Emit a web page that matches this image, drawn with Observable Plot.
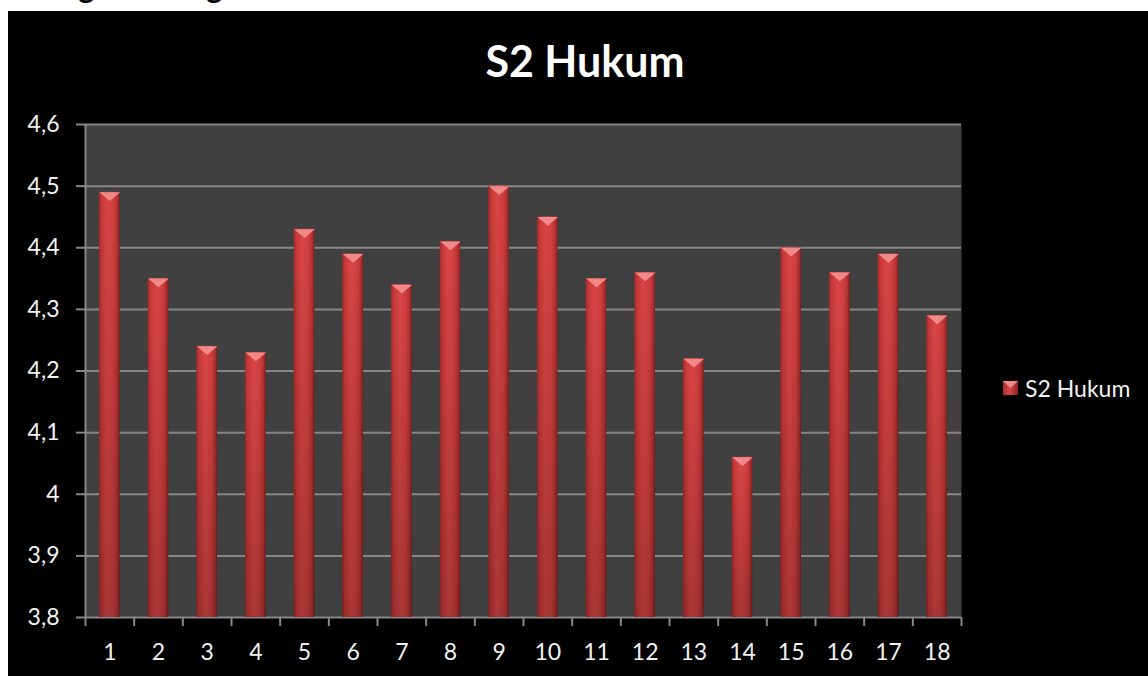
<!DOCTYPE html>
<html><head><meta charset="utf-8">
<script src="https://cdn.jsdelivr.net/npm/d3@7"></script>
<script src="https://cdn.jsdelivr.net/npm/@observablehq/plot@0.6"></script>
<style>
body{margin:0;background:#fff;width:1148px;height:676px;overflow:hidden;position:relative;font-family:Lato,sans-serif}
#hdr{position:absolute;left:0;top:0;width:1148px;height:11px;overflow:hidden}
#hdr span{position:absolute;left:8px;top:-29px;font:bold 30px/30px Lato,sans-serif;color:#000;white-space:nowrap}
#box{position:absolute;left:8px;top:11px;width:1140px;height:665px;background:#000}
#title{position:absolute;left:277px;top:28px;width:600px;text-align:center;font:bold 43px/43px Lato,sans-serif;color:#fff}
#legend{position:absolute;left:995px;top:364px;height:26px;display:flex;align-items:center;font:23px/26px Lato,sans-serif;color:#f2f2f2;white-space:nowrap}
#legend svg{margin-right:7px}
#chart{position:absolute;left:0;top:0}
</style></head>
<body>
<div id="hdr"><span>Rating Hasil Tugas</span></div>
<div id="box">
  <div id="chart"></div>
  <div id="title">S2 Hukum</div>
  <div id="legend"><svg width="15" height="14" viewBox="0 0 15 14"><defs><linearGradient id="lg" x1="0" x2="1"><stop offset="0" stop-color="#a82c2c"/><stop offset="0.45" stop-color="#d84444"/><stop offset="1" stop-color="#8a2222"/></linearGradient></defs><rect width="15" height="14" fill="url(#lg)"/><polygon points="0,0 15,0 7.5,7" fill="#f08a8a"/></svg><span>S2 Hukum</span></div>
</div>
<script>
const seriesName = "S2 Hukum";
const categories = [1,2,3,4,5,6,7,8,9,10,11,12,13,14,15,16,17,18];
const values = [4.49,4.35,4.24,4.23,4.43,4.39,4.34,4.41,4.50,4.45,4.35,4.36,4.22,4.06,4.40,4.36,4.39,4.29];
const yTicks = [3.8,3.9,4,4.1,4.2,4.3,4.4,4.5,4.6];
const yMin = 3.8, yMax = 4.6;

const rows = categories.map((k,i)=>({k, v: values[i]}));
const boundaries = categories.map(k=>k-0.5).concat([categories[categories.length-1]+0.5]);
const fmt = d => String(d).replace(".", ",");
const grid = "#878787";

const capSymbol = {draw(ctx, size){const s=Math.sqrt(size/Math.PI);ctx.moveTo(-s,0);ctx.lineTo(s,0);ctx.lineTo(0,0.85*s);ctx.closePath();}};

const chart = Plot.plot({
  width: 1140, height: 665,
  marginLeft: 77, marginRight: 187, marginTop: 113, marginBottom: 59,
  style: {background: "transparent", color: "#f2f2f2", fontFamily: "Lato, sans-serif", fontSize: "23px"},
  x: {type: "linear", domain: [boundaries[0], boundaries[boundaries.length-1]]},
  y: {domain: [yMin, yMax]},
  marks: [
    Plot.frame({fill: "#404040", stroke: "none"}),
    Plot.ruleY(yTicks, {stroke: grid, strokeWidth: 2}),
    Plot.ruleX([boundaries[0]], {stroke: grid, strokeWidth: 2}),
    Plot.axisY({ticks: yTicks, tickSize: 9, tickPadding: 17, tickFormat: fmt, stroke: grid, strokeWidth: 2, fill: "#f2f2f2", fontSize: 23, label: null}),
    Plot.axisX({ticks: boundaries, tickSize: 9, tickFormat: () => "", stroke: grid, strokeWidth: 2, label: null}),
    Plot.axisX({ticks: categories, tickSize: 0, tickPadding: 26, tickFormat: d => String(d), fill: "#f2f2f2", fontSize: 23, label: null}),
    Plot.rectY(rows, {x1: d=>d.k-0.5, x2: d=>d.k+0.5, y1: d=>yMin, y2: "v", insetLeft: 14, insetRight: 14, fill: "url(#barH)"}),
    Plot.rectY(rows, {x1: d=>d.k-0.5, x2: d=>d.k+0.5, y1: d=>yMin, y2: "v", insetLeft: 14, insetRight: 14, fill: "url(#barV)"}),
    Plot.dot(rows, {x: "k", y: "v", r: 10.3, symbol: capSymbol, fill: "#f08a8a", stroke: "none"})
  ]
});

const defs = d3.select(chart).insert("defs", ":first-child");
const gh = defs.append("linearGradient").attr("id","barH").attr("x1",0).attr("x2",1).attr("y1",0).attr("y2",0);
[[0,"#9e2a2a"],[0.12,"#c63838"],[0.4,"#da4646"],[0.7,"#d24040"],[0.9,"#b23030"],[1,"#7e1e1e"]].forEach(([o,c])=>gh.append("stop").attr("offset",o).attr("stop-color",c));
const gv = defs.append("linearGradient").attr("id","barV").attr("x1",0).attr("x2",0).attr("y1",0).attr("y2",1);
gv.append("stop").attr("offset",0).attr("stop-color","#000").attr("stop-opacity",0);
gv.append("stop").attr("offset",1).attr("stop-color","#000").attr("stop-opacity",0.22);

document.getElementById("chart").appendChild(chart);
</script>
</body></html>
